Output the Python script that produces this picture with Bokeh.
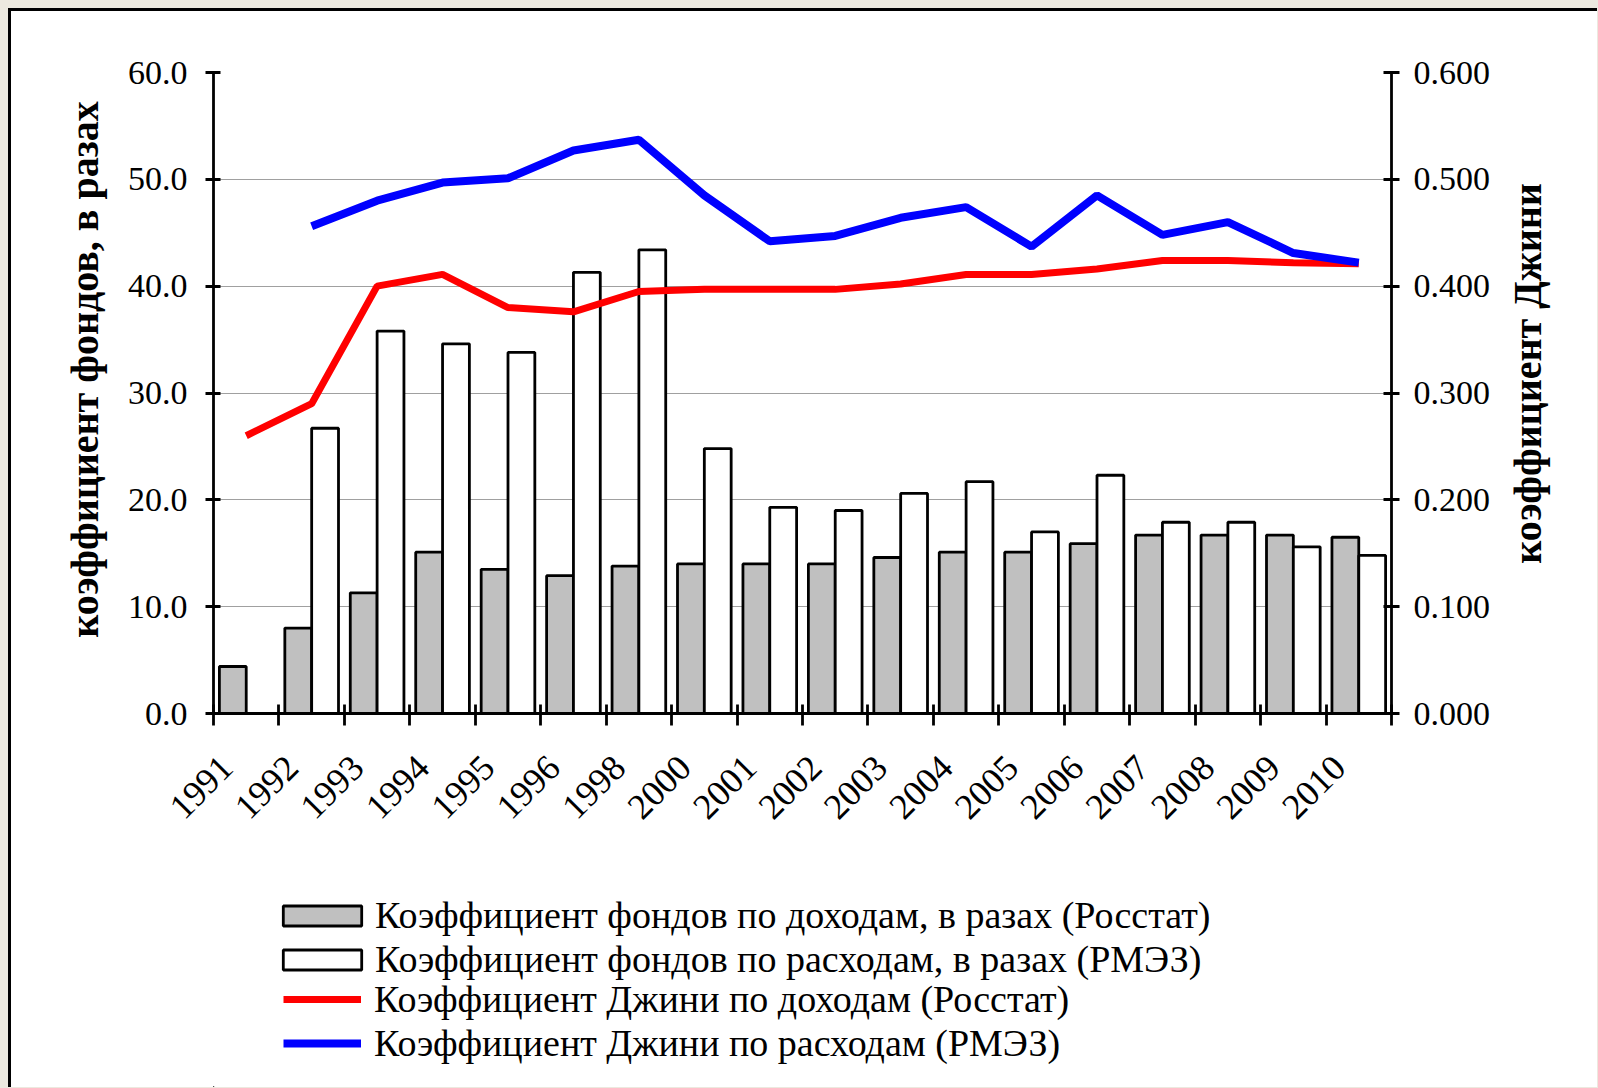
import math
from bokeh.plotting import figure
from bokeh.layouts import column
from bokeh.models import (Range1d, LinearAxis, FixedTicker, NumeralTickFormatter,
                          Legend, LegendItem, Label)
from bokeh.embed import file_html
from bokeh.resources import INLINE

# ---------------- data ----------------
years = ["1991", "1992", "1993", "1994", "1995", "1996", "1998", "2000", "2001",
         "2002", "2003", "2004", "2005", "2006", "2007", "2008", "2009", "2010"]
ratio_income = [4.4, 8.0, 11.3, 15.1, 13.5, 12.9, 13.8, 14.0, 14.0,
                14.0, 14.6, 15.1, 15.1, 15.9, 16.7, 16.7, 16.7, 16.5]
ratio_expend = [None, 26.7, 35.8, 34.6, 33.8, 41.3, 43.4, 24.8, 19.3,
                19.0, 20.6, 21.7, 17.0, 22.3, 17.9, 17.9, 15.6, 14.8]
gini_income = [0.260, 0.290, 0.400, 0.411, 0.380, 0.376, 0.395, 0.397, 0.397,
               0.397, 0.402, 0.411, 0.411, 0.416, 0.424, 0.424, 0.422, 0.421]
gini_expend = [None, 0.456, 0.480, 0.497, 0.501, 0.527, 0.537, 0.485, 0.442,
               0.447, 0.464, 0.474, 0.437, 0.485, 0.448, 0.460, 0.431, 0.422]
left_ticks = [0, 10, 20, 30, 40, 50, 60]
right_ticks = [0.0, 0.1, 0.2, 0.3, 0.4, 0.5, 0.6]
legend_labels = [
    "Коэффициент фондов по доходам, в разах (Росстат)",
    "Коэффициент фондов по расходам, в разах (РМЭЗ)",
    "Коэффициент Джини по доходам (Росстат)",
    "Коэффициент Джини по расходам (РМЭЗ)",
]
left_title = "коэффициент фондов, в разах"
right_title = "коэффициент Джини"

# ---------------- styles ----------------
FONT = "Liberation Serif"
GRAY = "#C0C0C0"
RED = "#FF0000"
BLUE = "#0000FF"
BAR_LW = 2.8
RED_LW = 7
BLUE_LW = 8

n = len(years)
centers = [i + 0.5 for i in range(n)]
bounds = list(range(n + 1))
BAR_W = 0.41
LABEL_SHIFT = 0.30          # year labels end a little left of the category centre
label_pos = [c - LABEL_SHIFT for c in centers]

W = 1586
H_CHART = 840
H_LEG = 236

p = figure(width=W, height=H_CHART, output_backend="svg", toolbar_location=None,
           x_range=Range1d(0, n), y_range=Range1d(0, 60),
           min_border_left=202, min_border_right=206,
           min_border_top=61, min_border_bottom=H_CHART - 702)
p.extra_y_ranges = {"gini": Range1d(0, 0.6)}
p.outline_line_color = None
p.background_fill_color = "white"
p.border_fill_color = "white"

# bars
gx = [c - BAR_W / 2 for c in centers]
p.vbar(x=gx, top=ratio_income, bottom=0, width=BAR_W,
       fill_color=GRAY, line_color="black", line_width=BAR_LW)
wx = [c + BAR_W / 2 for c, v in zip(centers, ratio_expend) if v is not None]
wt = [v for v in ratio_expend if v is not None]
p.vbar(x=wx, top=wt, bottom=0, width=BAR_W,
       fill_color="white", line_color="black", line_width=BAR_LW)

# lines
p.line(x=centers, y=gini_income, y_range_name="gini",
       line_color=RED, line_width=RED_LW)
bx = [c for c, v in zip(centers, gini_expend) if v is not None]
by = [v for v in gini_expend if v is not None]
p.line(x=bx, y=by, y_range_name="gini", line_color=BLUE, line_width=BLUE_LW)

# grid
p.xgrid.visible = False
p.ygrid.ticker = FixedTicker(ticks=left_ticks)
p.ygrid.grid_line_color = "#A0A0A0"
p.ygrid.grid_line_width = 1.2


def style_axis(ax):
    ax.axis_line_color = "black"
    ax.axis_line_width = BAR_LW
    ax.major_tick_line_color = "black"
    ax.major_tick_line_width = BAR_LW
    ax.minor_tick_line_color = "black"
    ax.minor_tick_line_width = BAR_LW
    ax.major_label_text_font = FONT
    ax.major_label_text_font_size = "34px"
    ax.major_label_text_color = "black"


# x axis
xa = p.xaxis[0]
style_axis(xa)
xa.ticker = FixedTicker(ticks=label_pos, minor_ticks=bounds)
xa.major_label_overrides = {c: y for c, y in zip(label_pos, years)}
xa.major_label_orientation = math.pi / 4
xa.major_label_text_font_size = "36px"
xa.major_tick_in = 0
xa.major_tick_out = 0
xa.minor_tick_in = 9
xa.minor_tick_out = 12
xa.major_label_standoff = 36

# left y axis
ya = p.yaxis[0]
style_axis(ya)
ya.ticker = FixedTicker(ticks=left_ticks, minor_ticks=[])
ya.formatter = NumeralTickFormatter(format="0.0")
ya.major_tick_in = 7
ya.major_tick_out = 8
ya.minor_tick_in = 0
ya.minor_tick_out = 0
ya.major_label_standoff = 18

# right y axis
ra = LinearAxis(y_range_name="gini", ticker=FixedTicker(ticks=right_ticks, minor_ticks=[]),
                formatter=NumeralTickFormatter(format="0.000"))
style_axis(ra)
ra.major_tick_in = 8
ra.major_tick_out = 8
ra.minor_tick_in = 0
ra.minor_tick_out = 0
ra.major_label_standoff = 14
p.add_layout(ra, "right")


def axis_title(text, x, y):
    return Label(text=text, x=x, y=y, x_units="screen", y_units="screen",
                 angle=math.pi / 2, text_align="center", text_baseline="middle",
                 text_font=FONT, text_font_size="40px", text_font_style="bold",
                 text_color="black")


# axis titles, both read bottom-to-top, each in its own side panel
p.add_layout(axis_title(left_title, 5, 344), "left")
p.add_layout(axis_title(right_title, 34, 340), "right")

# ---------------- legend strip (second figure, same styles) ----------------
q = figure(width=W, height=H_LEG, output_backend="svg", toolbar_location=None,
           x_axis_type=None, y_axis_type=None, min_border=0,
           x_range=Range1d(0, 1), y_range=Range1d(0, 1))
q.outline_line_color = None
q.background_fill_color = "white"
q.border_fill_color = "white"
q.xgrid.visible = False
q.ygrid.visible = False
# legend-key renderers: one placeholder point each, kept far outside the visible range
k_gray = q.vbar(x=[-50], top=[-40], bottom=-50, width=0.1,
                fill_color=GRAY, line_color="black", line_width=BAR_LW)
k_white = q.vbar(x=[-50], top=[-40], bottom=-50, width=0.1,
                 fill_color="white", line_color="black", line_width=BAR_LW)
k_red = q.line(x=[-50, -40], y=[-50, -50], line_color=RED, line_width=RED_LW)
k_blue = q.line(x=[-50, -40], y=[-50, -50], line_color=BLUE, line_width=BLUE_LW)


def make_legend(items, loc, gw, gh, standoff):
    lg = Legend(items=items, location=loc)
    lg.label_text_font = FONT
    lg.label_text_font_size = "38px"
    lg.label_text_color = "black"
    lg.glyph_width = gw
    lg.glyph_height = gh
    lg.label_height = 42
    lg.label_standoff = standoff
    lg.spacing = 0
    lg.padding = 0
    lg.margin = 0
    lg.border_line_color = None
    lg.background_fill_alpha = 0
    return lg


# bar keys are drawn inset by 10% on each side, so their box is enlarged
leg_bars = make_legend([LegendItem(label=legend_labels[0], renderers=[k_gray]),
                        LegendItem(label=legend_labels[1], renderers=[k_white])],
                       (60, 106), 98, 25, 4)
leg_lines = make_legend([LegendItem(label=legend_labels[2], renderers=[k_red]),
                         LegendItem(label=legend_labels[3], renderers=[k_blue])],
                        (70, 22), 78, 20, 13)
q.add_layout(leg_bars)
q.add_layout(leg_lines)

layout = column(p, q, spacing=0)
layout.styles = {"margin-left": "8px", "margin-top": "8px",
                 "border-left": "3px solid #000000", "border-top": "3px solid #000000",
                 "background-color": "white"}

html = file_html(layout, INLINE)
html = html.replace("</head>",
                    "<style>html, body { background-color: #ECE9DF !important; }</style>\n</head>", 1)
open("out.html", "w").write(html)
